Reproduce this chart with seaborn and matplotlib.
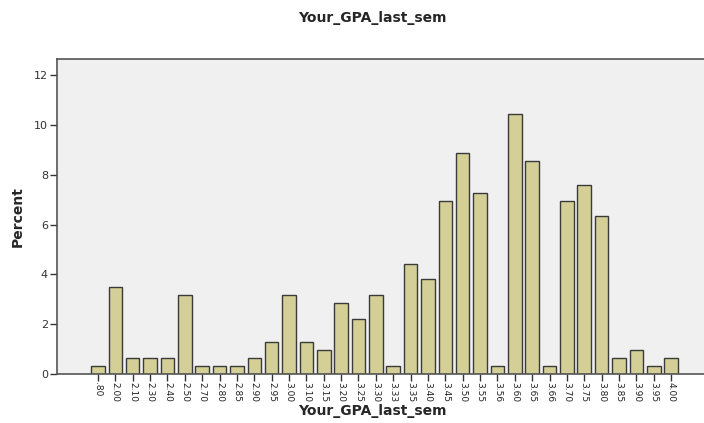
import matplotlib
matplotlib.use("Agg")
import matplotlib.pyplot as plt
import seaborn as sns
import pandas as pd

categories = [".80", "2.00", "2.10", "2.30", "2.40", "2.50", "2.70", "2.80", "2.85", "2.90",
              "2.95", "3.00", "3.10", "3.15", "3.20", "3.25", "3.30", "3.33", "3.35", "3.40",
              "3.45", "3.50", "3.55", "3.56", "3.60", "3.65", "3.66", "3.70", "3.75", "3.80",
              "3.85", "3.90", "3.95", "4.00"]
percent = [0.32, 3.48, 0.63, 0.63, 0.63, 3.16, 0.32, 0.32, 0.32, 0.63,
           1.27, 3.16, 1.27, 0.95, 2.85, 2.22, 3.16, 0.32, 4.43, 3.80,
           6.96, 8.86, 7.28, 0.32, 10.44, 8.54, 0.32, 6.96, 7.59, 6.33,
           0.63, 0.95, 0.32, 0.63]
yticks = [0, 2, 4, 6, 8, 10, 12]

df = pd.DataFrame({"gpa": categories, "pct": percent})

sns.set_style("white")
fig = plt.figure(figsize=(7.04, 4.23), dpi=100)
ax = fig.add_axes([57/704, 1 - 374/423, 1 - 57/704 + 0.01, (374 - 59)/423])
ax.set_facecolor("#f0f0f0")

sns.barplot(data=df, x="gpa", y="pct", order=categories, color="#d4cf96",
            saturation=1, width=0.78, edgecolor="#3a3a3a", linewidth=1.0, ax=ax)

ax.set_xlim(-2.36, 35.3)
ax.set_ylim(0, 12.65)
ax.set_yticks(yticks)
ax.set_yticklabels([str(v) for v in yticks], fontsize=8, color="#333333")
ax.set_xticks(range(len(categories)))
ax.set_xticklabels(categories, rotation=-90, fontsize=6.5, color="#222222")
ax.tick_params(axis="x", direction="out", length=5, width=1, color="#333333",
               bottom=True, pad=0.5)
ax.tick_params(axis="y", direction="out", length=5, width=1, color="#333333",
               left=True, pad=1.5)

for side in ["left", "bottom", "top"]:
    ax.spines[side].set_color("#555555")
    ax.spines[side].set_linewidth(1.2)
ax.spines["right"].set_visible(False)

ax.set_xlabel("")
ax.set_ylabel("")
fig.text(18/704, 1 - 217/423, "Percent", ha="center", va="center", rotation=90,
         fontsize=10, fontweight="bold")
fig.text(372/704, 1 - 411/423, "Your_GPA_last_sem", ha="center", va="center",
         fontsize=10, fontweight="bold")
fig.text(372/704, 1 - 18/423, "Your_GPA_last_sem", ha="center", va="center",
         fontsize=10, fontweight="bold")

fig.savefig("out.png", dpi=100)
